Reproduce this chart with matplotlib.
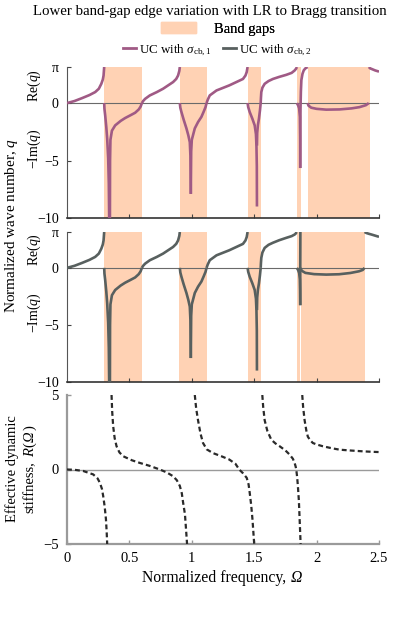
import numpy as np
import matplotlib
matplotlib.use('Agg')
import matplotlib.pyplot as plt
from matplotlib.patches import Patch
from matplotlib.lines import Line2D

plt.rcParams['font.family'] = ['Liberation Serif', 'DejaVu Serif']
plt.rcParams['mathtext.fontset'] = 'custom'
plt.rcParams['mathtext.rm'] = 'Liberation Serif'
plt.rcParams['mathtext.it'] = 'Liberation Serif:italic'
plt.rcParams['mathtext.bf'] = 'Liberation Serif:bold'

# band gaps (normalized frequency)
gaps_1 = [(0.296, 0.600), (0.904, 1.120), (1.448, 1.552), (1.842, 1.872), (1.928, 2.424)]
gaps_2 = [(0.296, 0.600), (0.900, 1.120), (1.448, 1.552), (1.842, 1.870), (1.875, 2.384)]

# Re(q) branches, shared low bands
re_b1_w = [0, 0.06, 0.12, 0.18, 0.226, 0.255, 0.275, 0.287, 0.293, 0.298]
re_b1_q = [0, 0.18, 0.43, 0.70, 0.96, 1.25, 1.68, 2.05, 2.4, np.pi]
re_b2_w = [0.600, 0.610, 0.626, 0.664, 0.720, 0.770, 0.850, 0.875, 0.890, 0.900, 0.904]
re_b2_q = [0, 0.18, 0.37, 0.67, 0.96, 1.25, 1.83, 2.1, 2.4, 2.8, np.pi]
re_b3_w = [1.118, 1.128, 1.144, 1.198, 1.300, 1.410, 1.430, 1.440, 1.447]
re_b3_q = [0, 0.30, 0.67, 1.10, 1.54, 2.10, 2.40, 2.70, np.pi]

# -Im(q) branches in the first three gaps
im_g1a_w = [0.298, 0.300, 0.306, 0.315, 0.322, 0.330, 0.335, 0.338]
im_g1a_q = [0, -0.5, -1.07, -2.1, -3.1, -4.8, -7.0, -10]
im_g1b_w = [0.344, 0.345, 0.348, 0.360, 0.386, 0.430, 0.466, 0.510, 0.546, 0.575, 0.590, 0.600]
im_g1b_q = [-10, -5.0, -3.2, -2.4, -1.94, -1.55, -1.30, -1.05, -0.84, -0.55, -0.30, 0]
im_g2a_w = [0.904, 0.908, 0.917, 0.935, 0.957, 0.972, 0.984, 0.989, 0.992]
im_g2a_q = [0, -0.40, -0.78, -1.45, -2.2, -2.8, -3.4, -4.6, -7.9]
im_g2b_w = [0.992, 0.995, 1.000, 1.024, 1.050, 1.077, 1.095, 1.110, 1.118]
im_g2b_q = [-7.9, -4.2, -3.2, -2.2, -1.65, -1.2, -0.75, -0.35, 0]
im_g3a_w = [1.447, 1.452, 1.464, 1.485, 1.504, 1.514, 1.518, 1.521, 1.522]
im_g3a_q = [0, -0.35, -0.78, -1.35, -1.94, -2.7, -3.7, -5.5, -9.0]
im_g3b_w = [1.522, 1.524, 1.530, 1.538, 1.546, 1.552]
im_g3b_q = [-3.7, -2.6, -1.9, -1.36, -0.65, 0]

# sigma_cb,1 upper part
re_b4_w_1 = [1.552, 1.554, 1.557, 1.566, 1.584, 1.615, 1.650, 1.700, 1.757, 1.800, 1.824, 1.836, 1.842]
re_b4_q_1 = [0, 0.45, 0.96, 1.35, 1.68, 1.92, 2.10, 2.28, 2.46, 2.63, 2.84, 3.0, np.pi]
im_g4a_w_1 = [1.842, 1.852, 1.860, 1.866, 1.868, 1.869]
im_g4a_q_1 = [0, -0.20, -0.45, -1.2, -3.0, -5.65]
im_g4b_w_1 = [1.869, 1.870, 1.871, 1.872]
im_g4b_q_1 = [-5.65, -2.0, -0.5, 0]
re_b5_w_1 = [1.872, 1.874, 1.878, 1.887, 1.897, 1.910, 1.928]
re_b5_q_1 = [0, 1.0, 2.0, 2.55, 2.85, 3.02, np.pi]
im_g5_w_1 = [1.928, 1.935, 1.957, 2.000, 2.077, 2.184, 2.280, 2.344, 2.395, 2.418]
im_g5_q_1 = [0, -0.22, -0.40, -0.50, -0.57, -0.55, -0.46, -0.35, -0.18, 0]
re_b6_w_1 = [2.418, 2.430, 2.450, 2.470, 2.500]
re_b6_q_1 = [np.pi, 3.02, 2.93, 2.84, 2.74]

# sigma_cb,2 upper part
re_b4_w_2 = [1.552, 1.554, 1.557, 1.566, 1.584, 1.615, 1.650, 1.700, 1.757, 1.800, 1.824, 1.834, 1.840]
re_b4_q_2 = [0, 0.42, 0.88, 1.35, 1.75, 2.02, 2.20, 2.42, 2.63, 2.78, 2.92, 3.02, np.pi]
im_g4a_w_2 = [1.842, 1.852, 1.860, 1.866, 1.868, 1.869]
im_g4a_q_2 = [0, -0.20, -0.45, -1.0, -2.0, -3.27]
re_g4_w_2 = [1.869, 1.869, 1.870]
re_g4_q_2 = [-3.27, 0, np.pi]
im_g5_w_2 = [1.869, 1.875, 1.885, 1.910, 1.980, 2.077, 2.180, 2.270, 2.340, 2.370, 2.384]
im_g5_q_2 = [0, -0.15, -0.28, -0.44, -0.55, -0.59, -0.56, -0.45, -0.30, -0.18, 0]
re_b6_w_2 = [2.384, 2.400, 2.420, 2.440, 2.470, 2.500]
re_b6_q_2 = [np.pi, 3.05, 2.98, 2.92, 2.82, 2.72]

# effective dynamic stiffness R(Omega)
r1_w = [0, 0.06, 0.13, 0.21, 0.245, 0.264, 0.280, 0.290, 0.302, 0.312, 0.318, 0.322]
r1_r = [0, -0.02, -0.10, -0.33, -0.60, -0.90, -1.30, -1.78, -2.5, -3.33, -4.2, -5]
r2_w = [0.357, 0.362, 0.370, 0.382, 0.397, 0.420, 0.450, 0.520, 0.584, 0.660, 0.744, 0.800, 0.850, 0.880, 0.904, 0.920, 0.930, 0.945, 0.952, 0.962]
r2_r = [5, 3.9, 2.9, 2.1, 1.56, 1.15, 0.89, 0.62, 0.44, 0.25, 0, -0.2, -0.45, -0.72, -1.1, -1.6, -2.2, -3.0, -3.8, -5]
r3_w = [1.024, 1.035, 1.050, 1.070, 1.090, 1.120, 1.170, 1.240, 1.300, 1.350, 1.380, 1.410, 1.440, 1.455, 1.464, 1.476, 1.486, 1.500]
r3_r = [5, 4.1, 3.3, 2.4, 1.78, 1.35, 1.10, 0.88, 0.67, 0.38, 0, -0.25, -0.56, -1.0, -1.56, -2.4, -3.33, -5]
r4_w = [1.565, 1.572, 1.584, 1.605, 1.637, 1.670, 1.704, 1.750, 1.784, 1.810, 1.824, 1.832, 1.837, 1.844, 1.850, 1.858, 1.864, 1.872]
r4_r = [5, 4.2, 3.3, 2.6, 2.0, 1.75, 1.56, 1.28, 1.0, 0.72, 0.44, 0.2, 0, -0.5, -1.1, -2.1, -3.33, -5]
r5_w = [1.885, 1.892, 1.904, 1.918, 1.930, 1.950, 1.970, 2.000, 2.050, 2.120, 2.184, 2.280, 2.370, 2.440, 2.500]
r5_r = [5, 4.2, 3.3, 2.6, 2.2, 1.95, 1.78, 1.68, 1.56, 1.43, 1.33, 1.27, 1.22, 1.19, 1.17]

# colours
c_gap = '#ffd2b4'
c1 = '#a05a85'
c2 = '#58605f'

low_re = [(re_b1_w, re_b1_q), (re_b2_w, re_b2_q), (re_b3_w, re_b3_q)]
low_im = [(im_g1a_w, im_g1a_q), (im_g1b_w, im_g1b_q), (im_g2a_w, im_g2a_q),
          (im_g2b_w, im_g2b_q), (im_g3a_w, im_g3a_q), (im_g3b_w, im_g3b_q)]
up_1 = [(re_b4_w_1, re_b4_q_1), (im_g4a_w_1, im_g4a_q_1), (im_g4b_w_1, im_g4b_q_1),
        (re_b5_w_1, re_b5_q_1), (im_g5_w_1, im_g5_q_1), (re_b6_w_1, re_b6_q_1)]
up_2 = [(re_b4_w_2, re_b4_q_2), (im_g4a_w_2, im_g4a_q_2), (re_g4_w_2, re_g4_q_2),
        (im_g5_w_2, im_g5_q_2), (re_b6_w_2, re_b6_q_2)]

fig = plt.figure(figsize=(3.93, 6.17), dpi=100)
W, H = 393.0, 617.0


def box(top, bot):
    return [67 / W, 1 - bot / H, (379 - 67) / W, (bot - top) / H]


def rich_text(xc, yc, pieces, size, rotation=0):
    # pieces of (text, style, gap before in em); mathtext can't italicize capital greek
    r = fig.canvas.get_renderer()
    em = size * fig.dpi / 72.0
    arts, lens = [], []
    for s, st, gap in pieces:
        t = fig.text(0, 0, s, fontsize=size, style=st, rotation=rotation,
                     rotation_mode='anchor', ha='left', va='baseline')
        bb = t.get_window_extent(r)
        arts.append(t)
        lens.append(gap * em + (bb.height if rotation == 90 else bb.width))
    total = sum(lens)
    pos = -total / 2.0
    for t, (s, st, gap), L in zip(arts, pieces, lens):
        pos += gap * em
        if rotation == 90:
            t.set_position(((xc + 0.3 * em) / W, (H - yc + pos) / H))
        else:
            t.set_position(((xc + pos) / W, (H - yc - 0.3 * em) / H))
        pos += L - gap * em


ax1 = fig.add_axes(box(67, 218))
ax2 = fig.add_axes(box(232, 382))
ax3 = fig.add_axes(box(395, 544))

for ax, gaps, col, upper in [(ax1, gaps_1, c1, up_1), (ax2, gaps_2, c2, up_2)]:
    for g in gaps:
        ax.axvspan(g[0], g[1], color=c_gap, lw=0, zorder=0)
    ax.axhline(0, color='#6a6a6a', lw=0.8, zorder=1)
    for w, q in low_re + low_im + upper:
        ax.plot(w, q, color=col, lw=1.9, solid_capstyle='butt', zorder=3)
    ax.set_xlim(0, 2.5)
    ax.set_ylim(-10, np.pi)
    ax.set_yticks([np.pi, 0, -5, -10])
    ax.set_yticklabels(['π', '0', '−5', '−10'])
    ax.set_xticks([0.5, 1, 1.5, 2, 2.5])
    ax.set_xticklabels([])
    ax.tick_params(direction='in', length=3, width=0.8, colors='#444444', labelsize=10, pad=6)
    ax.tick_params(axis='y', labelcolor='black')
    ax.spines['top'].set_visible(False)
    ax.spines['right'].set_visible(False)
    ax.spines['left'].set_color('#555555')
    ax.spines['bottom'].set_color('#333333')
    ax.spines['bottom'].set_linewidth(1.2)
    # secondary axis labels
    pos = ax.get_position()
    ax.text(34 / W, pos.y0 + 0.88 * pos.height, 'Re($q$)', transform=fig.transFigure,
            rotation=90, ha='center', va='center', fontsize=10)
    ax.text(34 / W, pos.y0 + 0.46 * pos.height, '−Im($q$)', transform=fig.transFigure,
            rotation=90, ha='center', va='center', fontsize=10)

# bottom panel
ax3.axhline(0, color='#9a9a9a', lw=1.0, zorder=1)
for w, r in [(r1_w, r1_r), (r2_w, r2_r), (r3_w, r3_r), (r4_w, r4_r), (r5_w, r5_r)]:
    ax3.plot(w, r, color='#2a2a2a', lw=1.6, ls=(0, (2.2, 1.4)), zorder=3)
ax3.set_xlim(0, 2.5)
ax3.set_ylim(-5, 5)
ax3.set_yticks([5, 0, -5])
ax3.set_yticklabels(['5', '0', '−5'])
ax3.set_xticks([0, 0.5, 1, 1.5, 2, 2.5])
ax3.set_xticklabels(['0', '0.5', '1', '1.5', '2', '2.5'])
ax3.tick_params(direction='in', length=3, width=1.0, colors='#999999', labelcolor='black',
                labelsize=10.5, pad=6)
ax3.spines['top'].set_visible(False)
ax3.spines['right'].set_visible(False)
for s in ['left', 'bottom']:
    ax3.spines[s].set_color('#9a9a9a')
    ax3.spines[s].set_linewidth(1.6)

rich_text(222, 577, [('Normalized frequency,', 'normal', 0), ('Ω', 'italic', 0.25)], 11.3)
fig.text(12 / W, 1 - 469 / H, 'Effective dynamic', rotation=90,
         ha='center', va='center', fontsize=10.5)
rich_text(29, 469, [('stiffness,', 'normal', 0), ('$R$(', 'normal', 0.25),
                    ('Ω', 'italic', 0), (')', 'normal', 0.05)], 10.5, rotation=90)

fig.text(12 / W, 1 - 225 / H, 'Normalized wave number, $q$', rotation=90,
         ha='center', va='center', fontsize=11)
fig.text(210 / W, 1 - 11 / H, 'Lower band-gap edge variation with LR to Bragg transition',
         ha='center', va='center', fontsize=10.7)

leg1 = fig.legend([Patch(color=c_gap)], ['Band gaps'], loc='center',
                  bbox_to_anchor=(218 / W, 1 - 29 / H), frameon=False, fontsize=10.5,
                  handlelength=2.4, handleheight=0.7, handletextpad=1.2, borderpad=0)
leg2 = fig.legend([Line2D([], [], color=c1, lw=2), Line2D([], [], color=c2, lw=2)],
                  ['UC with $\\sigma_{\\mathrm{cb},1}$', 'UC with $\\sigma_{\\mathrm{cb},2}$'],
                  loc='center', bbox_to_anchor=(217 / W, 1 - 50 / H), ncol=2, frameon=False,
                  fontsize=9.4, handlelength=1.0, handletextpad=0.2, columnspacing=0.9, borderpad=0)
fig.add_artist(leg1)

plt.savefig('out.png', dpi=100)
